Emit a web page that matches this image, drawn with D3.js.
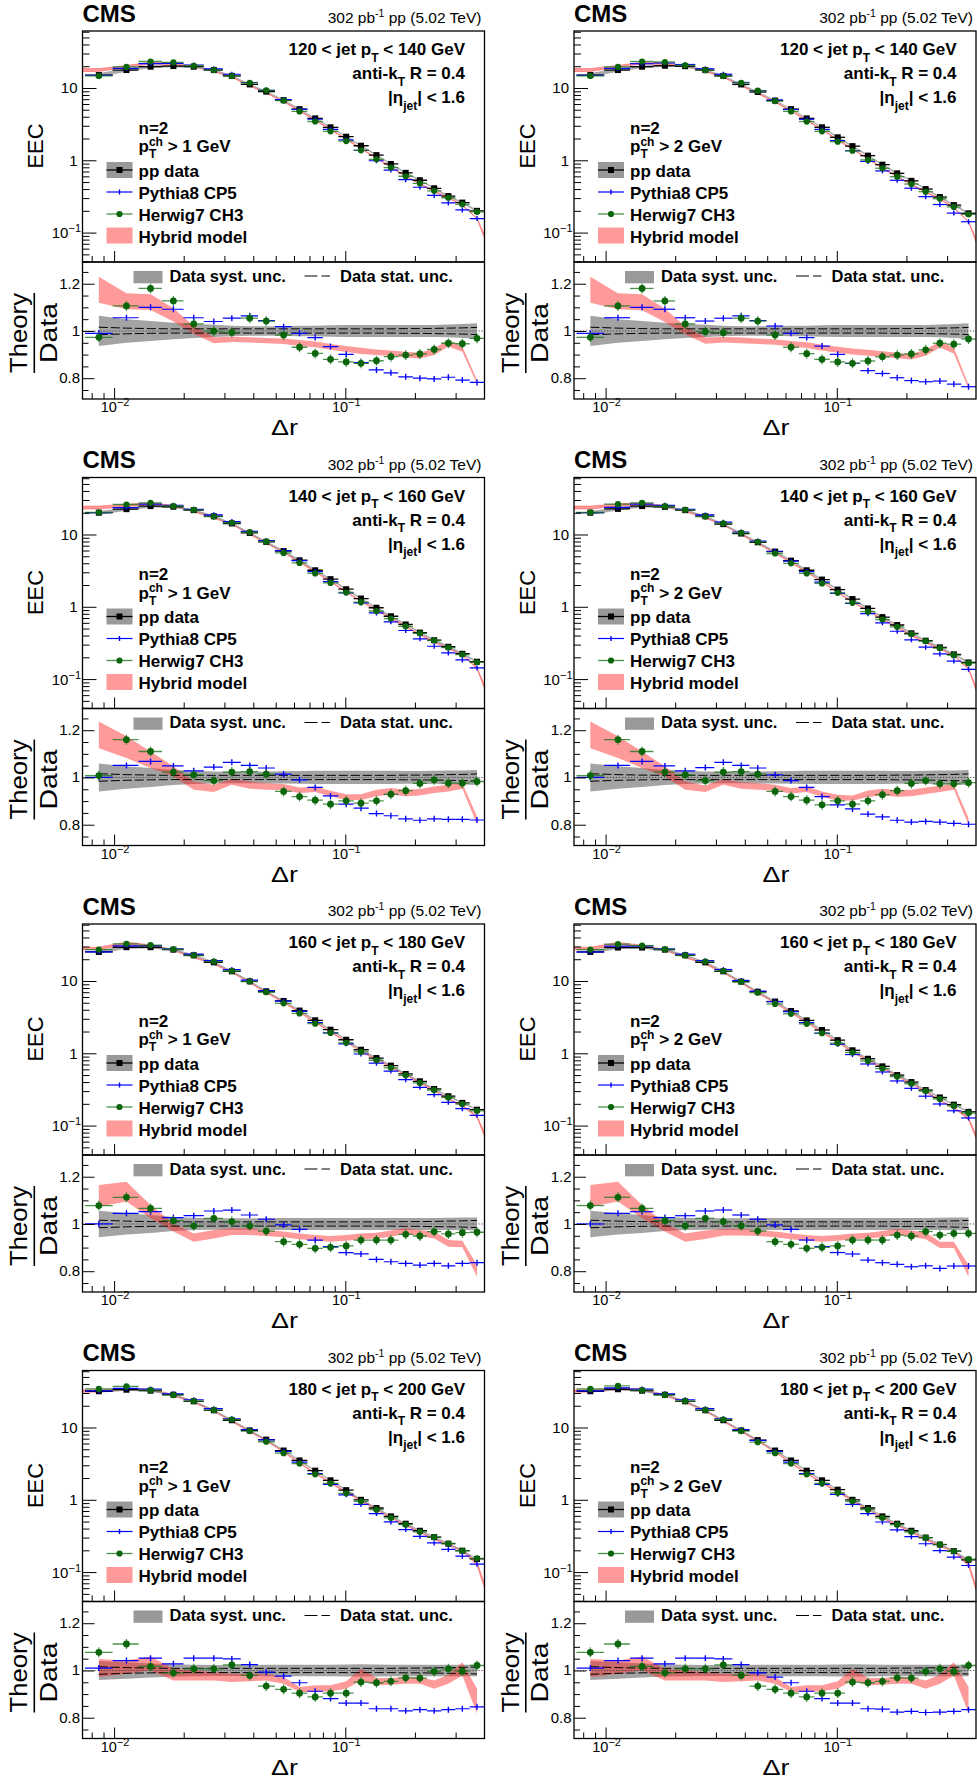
<!DOCTYPE html>
<html><head><meta charset="utf-8">
<script src="https://cdn.jsdelivr.net/npm/d3@7"></script>
<style>
body{margin:0;background:#fff}
svg{display:block}
text{font-family:"Liberation Sans",Arial,Helvetica,sans-serif;fill:#000}
</style></head>
<body><svg id="c" width="977" height="1778"></svg>
<script>
// ---------------- data ----------------
const dr = [0.00859,0.01131,0.01438,0.01805,0.0221,0.0270,0.0323,0.0386,0.0455,0.0541,0.0634,0.0741,0.0863,0.1009,0.1169,0.1364,0.1575,0.1825,0.2102,0.2423,0.2791,0.3208,0.3713];
const jetPtLow  = [120,140,160,180];
const jetPtHigh = [140,160,180,200];
const trackPtCut = [1,2];
const xTickVals = [0.01,0.1];
const xTickExp  = ["\u22122","\u22121"];
const yUpperTickVals = [0.1,1,10];
const ratioTickVals = [0.8,1,1.2];
const ratioTickLabels = ["0.8","1","1.2"];

// EEC (pp data)
const eec_120_140_trk1 = [15.1,17.7,19.7,20.1,19.7,17.7,14.7,11.2,8.9,6.8,5.1,3.8,2.86,2.12,1.59,1.18,0.89,0.67,0.53,0.41,0.32,0.26,0.20];
const eec_120_140_trk2 = [15.1,17.7,19.7,20.3,20.0,17.7,14.7,11.2,8.8,6.7,5.1,3.8,2.86,2.08,1.57,1.16,0.87,0.66,0.52,0.40,0.31,0.24,0.185];
const eec_140_160_trk1 = [20.0,22.4,24.7,24.2,21.7,17.9,14.2,10.5,7.9,5.9,4.4,3.2,2.41,1.75,1.30,0.97,0.74,0.57,0.44,0.345,0.28,0.224,0.174];
const eec_140_160_trk2 = [20.0,22.6,24.7,24.1,21.7,17.9,13.9,10.3,7.8,5.8,4.35,3.2,2.38,1.73,1.28,0.95,0.72,0.56,0.43,0.34,0.275,0.22,0.17];
const eec_160_180_trk1 = [25.2,29.3,29.3,27.1,22.7,18.1,13.6,9.9,7.2,5.3,3.9,2.86,2.12,1.54,1.12,0.86,0.675,0.518,0.41,0.321,0.255,0.206,0.166];
const eec_160_180_trk2 = [25.2,29.0,29.0,27.1,22.7,18.1,13.6,9.8,7.1,5.2,3.85,2.85,2.1,1.52,1.1,0.84,0.66,0.5,0.4,0.31,0.245,0.195,0.155];
const eec_180_200_trk1 = [31.7,33.3,32.3,28.4,23.0,17.3,12.6,9.1,6.8,4.8,3.5,2.53,1.86,1.36,1.0,0.77,0.59,0.467,0.373,0.305,0.247,0.198,0.152];
const eec_180_200_trk2 = [31.7,33.8,32.3,28.4,23.0,17.3,12.6,9.1,6.7,4.8,3.5,2.53,1.86,1.38,1.0,0.77,0.59,0.467,0.373,0.3,0.24,0.195,0.148];

// Theory / Data : Pythia8 CP5
const pythia_120_140_trk1 = [0.99,1.056,1.10,1.092,1.056,1.04,1.054,1.064,1.044,1.018,0.99,0.972,0.934,0.901,0.866,0.835,0.823,0.806,0.80,0.797,0.804,0.792,0.782];
const pythia_120_140_trk2 = [0.99,1.056,1.10,1.092,1.056,1.042,1.054,1.064,1.044,1.021,0.99,0.972,0.936,0.901,0.863,0.832,0.82,0.802,0.79,0.785,0.788,0.775,0.764];
const pythia_140_160_trk1 = [1.0,1.051,1.068,1.049,1.028,1.044,1.064,1.051,1.04,1.014,0.99,0.958,0.922,0.887,0.87,0.847,0.838,0.825,0.819,0.825,0.823,0.823,0.82];
const pythia_140_160_trk2 = [1.0,1.051,1.068,1.049,1.028,1.042,1.064,1.051,1.04,1.011,0.987,0.958,0.919,0.884,0.867,0.845,0.833,0.819,0.811,0.814,0.811,0.806,0.802];
const pythia_160_180_trk1 = [1.0,1.045,1.052,1.027,1.035,1.055,1.059,1.038,1.02,0.996,0.977,0.932,0.904,0.879,0.873,0.85,0.84,0.833,0.826,0.833,0.823,0.833,0.836];
const pythia_160_180_trk2 = [1.0,1.045,1.052,1.027,1.035,1.055,1.059,1.038,1.02,0.996,0.977,0.932,0.904,0.879,0.873,0.847,0.836,0.829,0.819,0.823,0.812,0.822,0.822];
const pythia_180_200_trk1 = [1.01,1.042,1.052,1.028,1.052,1.052,1.049,1.025,0.993,0.976,0.948,0.912,0.881,0.862,0.862,0.838,0.838,0.829,0.834,0.829,0.834,0.838,0.846];
const pythia_180_200_trk2 = [1.01,1.042,1.052,1.028,1.052,1.052,1.049,1.025,0.99,0.972,0.948,0.912,0.881,0.862,0.862,0.838,0.836,0.824,0.827,0.822,0.824,0.827,0.834];

// Theory / Data : Herwig7 CH3
const herwig_120_140_trk1 = [0.973,1.106,1.18,1.127,1.03,0.999,0.994,1.054,1.042,0.983,0.931,0.905,0.88,0.869,0.863,0.874,0.891,0.898,0.903,0.922,0.948,0.946,0.969];
const herwig_120_140_trk2 = [0.973,1.106,1.18,1.127,1.03,0.997,0.993,1.054,1.042,0.983,0.931,0.904,0.88,0.869,0.863,0.873,0.891,0.898,0.903,0.92,0.948,0.944,0.966];
const herwig_140_160_trk1 = [1.008,1.16,1.11,1.023,1.011,0.987,1.023,1.025,1.014,0.941,0.919,0.904,0.887,0.901,0.891,0.901,0.929,0.944,0.975,0.99,0.976,0.976,0.983];
const herwig_140_160_trk2 = [1.008,1.16,1.11,1.023,1.011,0.987,1.023,1.025,1.014,0.941,0.919,0.904,0.884,0.901,0.887,0.901,0.927,0.944,0.975,0.987,0.973,0.973,0.978];
const herwig_160_180_trk1 = [1.078,1.113,1.066,1.014,0.992,1.024,1.01,0.992,0.97,0.925,0.914,0.897,0.901,0.907,0.932,0.932,0.932,0.956,0.949,0.968,0.958,0.963,0.965];
const herwig_160_180_trk2 = [1.078,1.113,1.066,1.014,0.992,1.024,1.01,0.992,0.97,0.925,0.914,0.897,0.901,0.907,0.932,0.932,0.932,0.953,0.949,0.968,0.953,0.96,0.96];
const herwig_180_200_trk1 = [1.077,1.112,1.017,0.99,1.007,1.007,1.024,0.979,0.934,0.92,0.904,0.888,0.904,0.904,0.951,0.948,0.954,0.969,0.968,0.996,1.007,0.997,1.021];
const herwig_180_200_trk2 = [1.077,1.112,1.017,0.99,1.007,1.007,1.024,0.979,0.934,0.92,0.904,0.888,0.904,0.904,0.951,0.948,0.954,0.969,0.968,0.996,1.007,0.996,1.021];

// Theory / Data : Hybrid model band (upper / lower edge)
const hybHi_120_140_trk1 = [1.23,1.16,1.155,1.096,1.021,0.973,0.976,0.973,0.97,0.968,0.962,0.955,0.945,0.936,0.929,0.922,0.917,0.912,0.908,0.927,0.962,0.934,0.792];
const hybLo_120_140_trk1 = [1.12,1.092,1.089,1.04,0.987,0.948,0.953,0.951,0.948,0.945,0.936,0.931,0.92,0.911,0.903,0.898,0.894,0.888,0.883,0.898,0.934,0.912,0.775];
const hybHi_120_140_trk2 = [1.23,1.16,1.155,1.094,1.02,0.972,0.975,0.972,0.968,0.965,0.958,0.952,0.942,0.933,0.926,0.92,0.914,0.908,0.902,0.922,0.955,0.93,0.772];
const hybLo_120_140_trk2 = [1.12,1.092,1.088,1.038,0.985,0.946,0.951,0.948,0.945,0.942,0.934,0.928,0.917,0.908,0.9,0.895,0.89,0.884,0.879,0.895,0.93,0.905,0.755];
const hybHi_140_160_trk1 = [1.237,1.174,1.11,1.047,0.983,0.969,0.994,0.983,0.976,0.972,0.958,0.962,0.944,0.929,0.929,0.948,0.955,0.948,0.951,0.962,0.969,0.976,0.835];
const hybLo_140_160_trk1 = [1.124,1.082,1.04,1.004,0.948,0.938,0.969,0.952,0.948,0.946,0.934,0.938,0.92,0.905,0.905,0.92,0.927,0.92,0.924,0.934,0.941,0.952,0.802];
const hybHi_140_160_trk2 = [1.237,1.174,1.11,1.047,0.983,0.966,0.992,0.98,0.976,0.969,0.955,0.962,0.941,0.927,0.924,0.945,0.952,0.946,0.948,0.958,0.965,0.972,0.828];
const hybLo_140_160_trk2 = [1.124,1.082,1.04,1.004,0.948,0.938,0.969,0.952,0.948,0.944,0.932,0.938,0.917,0.903,0.901,0.917,0.924,0.918,0.92,0.93,0.938,0.948,0.8];
const hybHi_160_180_trk1 = [1.165,1.179,1.08,1.003,0.96,0.975,0.982,0.982,0.975,0.968,0.96,0.953,0.949,0.953,0.96,0.963,0.972,0.982,0.975,0.968,0.932,0.929,0.826];
const hybLo_160_180_trk1 = [1.073,1.095,1.024,0.968,0.925,0.939,0.953,0.953,0.949,0.944,0.935,0.929,0.925,0.929,0.935,0.939,0.946,0.958,0.949,0.939,0.904,0.901,0.777];
const hybHi_160_180_trk2 = [1.165,1.179,1.08,1.003,0.96,0.972,0.98,0.98,0.975,0.968,0.96,0.953,0.949,0.953,0.96,0.963,0.97,0.98,0.972,0.965,0.925,0.925,0.826];
const hybLo_160_180_trk2 = [1.073,1.095,1.024,0.968,0.925,0.936,0.951,0.951,0.949,0.944,0.935,0.929,0.925,0.929,0.935,0.939,0.944,0.955,0.946,0.935,0.898,0.898,0.777];
const hybHi_180_200_trk1 = [1.049,1.042,1.059,1.007,1.0,0.993,0.986,0.986,0.986,0.972,0.93,0.937,0.937,0.954,1.007,0.968,0.968,0.972,0.972,0.958,0.982,1.035,0.923];
const hybLo_180_200_trk1 = [0.972,0.986,1.0,0.958,0.958,0.958,0.951,0.954,0.958,0.944,0.909,0.909,0.912,0.923,0.958,0.937,0.94,0.944,0.944,0.923,0.944,0.979,0.817];
const hybHi_180_200_trk2 = [1.049,1.042,1.059,1.007,1.0,0.993,0.986,0.986,0.986,0.972,0.93,0.937,0.937,0.954,1.007,0.968,0.968,0.972,0.972,0.958,0.982,1.035,0.93];
const hybLo_180_200_trk2 = [0.972,0.986,1.0,0.958,0.958,0.958,0.951,0.954,0.958,0.944,0.909,0.909,0.912,0.923,0.958,0.937,0.94,0.944,0.944,0.923,0.944,0.979,0.82];
// Hybrid model value at the right edge (Delta r = 0.4) of the upper pads
const hybridEdgeValue = [0.088,0.079,0.078,0.075,0.075,0.071,0.064,0.06];

// Data relative uncertainties (half widths)
const systRel_120_140 = [0.064,0.05,0.042,0.035,0.03,0.026,0.022,0.02,0.02,0.02,0.022,0.022,0.024,0.025,0.025,0.025,0.025,0.025,0.025,0.025,0.027,0.03,0.033];
const systRel_140_160 = [0.059,0.048,0.04,0.032,0.028,0.025,0.024,0.024,0.025,0.026,0.027,0.028,0.028,0.028,0.028,0.028,0.028,0.027,0.027,0.028,0.029,0.03,0.032];
const systRel_160_180 = [0.056,0.045,0.038,0.03,0.026,0.024,0.024,0.024,0.025,0.025,0.025,0.025,0.025,0.025,0.025,0.025,0.025,0.025,0.025,0.025,0.026,0.027,0.027];
const systRel_180_200 = [0.04,0.035,0.03,0.026,0.024,0.023,0.023,0.023,0.024,0.024,0.024,0.024,0.024,0.025,0.026,0.025,0.024,0.024,0.024,0.024,0.024,0.024,0.024];
const statRel = [0.016,0.012,0.01,0.009,0.009,0.009,0.009,0.009,0.009,0.009,0.009,0.009,0.009,0.009,0.009,0.009,0.009,0.01,0.01,0.011,0.012,0.013,0.015];

// ---------------- assemble panels ----------------
const eecList = [eec_120_140_trk1,eec_120_140_trk2,eec_140_160_trk1,eec_140_160_trk2,eec_160_180_trk1,eec_160_180_trk2,eec_180_200_trk1,eec_180_200_trk2];
const pyList = [pythia_120_140_trk1,pythia_120_140_trk2,pythia_140_160_trk1,pythia_140_160_trk2,pythia_160_180_trk1,pythia_160_180_trk2,pythia_180_200_trk1,pythia_180_200_trk2];
const hwList = [herwig_120_140_trk1,herwig_120_140_trk2,herwig_140_160_trk1,herwig_140_160_trk2,herwig_160_180_trk1,herwig_160_180_trk2,herwig_180_200_trk1,herwig_180_200_trk2];
const hiList = [hybHi_120_140_trk1,hybHi_120_140_trk2,hybHi_140_160_trk1,hybHi_140_160_trk2,hybHi_160_180_trk1,hybHi_160_180_trk2,hybHi_180_200_trk1,hybHi_180_200_trk2];
const loList = [hybLo_120_140_trk1,hybLo_120_140_trk2,hybLo_140_160_trk1,hybLo_140_160_trk2,hybLo_160_180_trk1,hybLo_160_180_trk2,hybLo_180_200_trk1,hybLo_180_200_trk2];
const systList = [systRel_120_140,systRel_140_160,systRel_160_180,systRel_180_200];

const svg = d3.select("#c");
const COLX = [82.5,574], PW = 402, ROWH = 446.5;
const UT = 31, UB = 262, LB = 399;
const XDOM = [0.0073,0.4];
const C_BLUE = "#0000ff", C_GM = "#0b660b", C_GL = "rgba(30,120,30,0.8)";
const C_GREY = "#999999", C_PINK = "rgba(255,40,40,0.47)";

const edges = dr.map((c,i)=> i===0 ? c*c/Math.sqrt(c*dr[1]) : Math.sqrt(dr[i-1]*c));
edges.push(dr[dr.length-1]*dr[dr.length-1]/Math.sqrt(dr[dr.length-2]*dr[dr.length-1]));

function rich(sel, parts, small, subDy, supDy){
  let cur = 0;
  parts.forEach(p=>{
    const tgt = p.sub ? subDy : (p.sup ? -supDy : 0);
    const t = sel.append("tspan").text(p.t);
    if (tgt!==cur) t.attr("dy", tgt-cur);
    if (p.dx) t.attr("dx", p.dx);
    if (p.sub || p.sup) t.style("font-size", small+"px");
    cur = tgt;
  });
  return sel;
}

function drawPanel(k){
  const row = Math.floor(k/2), col = k%2;
  const data = eecList[k], py = pyList[k], hw = hwList[k], hi = hiList[k], lo = loList[k];
  const syst = systList[row];
  const x0 = COLX[col], x1 = x0+PW, oy = row*ROWH;
  const uT = UT+oy, uB = UB+oy, lB = LB+oy;
  const x = d3.scaleLog().domain(XDOM).range([x0,x1]);
  const yU = d3.scaleLog().domain([0.0392,61.4]).range([uB,uT]);
  const yL = d3.scaleLinear().domain([0.712,1.292]).range([lB,uB]);
  const id = "p"+k;
  const defs = svg.append("defs");
  defs.append("clipPath").attr("id",id+"u").append("rect").attr("x",x0).attr("y",uT).attr("width",PW).attr("height",uB-uT);
  defs.append("clipPath").attr("id",id+"l").append("rect").attr("x",x0).attr("y",uB).attr("width",PW).attr("height",lB-uB);
  const gu = svg.append("g").attr("clip-path",`url(#${id}u)`);
  const gl = svg.append("g").attr("clip-path",`url(#${id}l)`);
  const idx = d3.range(dr.length);

  // ---- upper pad ----
  const hybPts = [{r:XDOM[0],lo:data[0]*lo[0],hi:data[0]*hi[0]}]
    .concat(idx.map(i=>({r:dr[i],lo:data[i]*lo[i],hi:data[i]*hi[i]})))
    .concat([{r:XDOM[1],lo:hybridEdgeValue[k]*0.94,hi:hybridEdgeValue[k]*1.06}]);
  gu.append("path").datum(hybPts)
    .attr("d",d3.area().x(d=>x(d.r)).y0(d=>yU(d.lo)).y1(d=>yU(d.hi)))
    .attr("fill",C_PINK).attr("stroke",C_PINK).attr("stroke-width",0.8);
  gu.append("path").datum(idx)
    .attr("d",d3.area().x(i=>x(dr[i])).y0(i=>yU(data[i]*(1-syst[i]))).y1(i=>yU(data[i]*(1+syst[i]))))
    .attr("fill",C_GREY).attr("opacity",0.85);
  // data
  gu.selectAll(null).data(idx).join("line")
    .attr("x1",i=>x(edges[i])).attr("x2",i=>x(edges[i+1]))
    .attr("y1",i=>yU(data[i])).attr("y2",i=>yU(data[i]))
    .attr("stroke","#000").attr("stroke-width",1.3);
  gu.selectAll(null).data(idx).join("rect")
    .attr("x",i=>x(dr[i])-3).attr("y",i=>yU(data[i])-3).attr("width",6).attr("height",6).attr("fill","#000");
  // pythia
  gu.selectAll(null).data(idx).join("line")
    .attr("x1",i=>x(edges[i])).attr("x2",i=>x(edges[i+1]))
    .attr("y1",i=>yU(data[i]*py[i])).attr("y2",i=>yU(data[i]*py[i]))
    .attr("stroke",C_BLUE).attr("stroke-width",1.2);
  gu.selectAll(null).data(idx).join("line")
    .attr("x1",i=>x(dr[i])).attr("x2",i=>x(dr[i]))
    .attr("y1",i=>yU(data[i]*py[i])-2.5).attr("y2",i=>yU(data[i]*py[i])+2.5)
    .attr("stroke",C_BLUE).attr("stroke-width",1.4);
  // herwig
  gu.selectAll(null).data(idx).join("line")
    .attr("x1",i=>x(edges[i])).attr("x2",i=>x(edges[i+1]))
    .attr("y1",i=>yU(data[i]*hw[i])).attr("y2",i=>yU(data[i]*hw[i]))
    .attr("stroke",C_GL).attr("stroke-width",1.3);
  gu.selectAll(null).data(idx).join("circle")
    .attr("cx",i=>x(dr[i])).attr("cy",i=>yU(data[i]*hw[i])).attr("r",3.1).attr("fill",C_GM);

  // ---- lower pad ----
  gl.append("path").datum(idx)
    .attr("d",d3.area().x(i=>x(dr[i])).y0(i=>yL(1-syst[i])).y1(i=>yL(1+syst[i])))
    .attr("fill",C_GREY).attr("opacity",0.9);
  gl.append("path").datum(idx)
    .attr("d",d3.area().x(i=>x(dr[i])).y0(i=>yL(lo[i])).y1(i=>yL(hi[i])))
    .attr("fill",C_PINK);
  [1,-1].forEach(s=>{
    gl.append("path").datum(idx)
      .attr("d",d3.line().x(i=>x(dr[i])).y(i=>yL(1+s*statRel[i])))
      .attr("fill","none").attr("stroke","#000").attr("stroke-width",1).attr("stroke-dasharray","9,3");
  });
  gl.append("line").attr("x1",x0).attr("x2",x1).attr("y1",yL(1)).attr("y2",yL(1))
    .attr("stroke","#444").attr("stroke-width",1).attr("stroke-dasharray","1.2,1.8");
  gl.selectAll(null).data(idx).join("line")
    .attr("x1",i=>x(edges[i])).attr("x2",i=>x(edges[i+1]))
    .attr("y1",i=>yL(py[i])).attr("y2",i=>yL(py[i]))
    .attr("stroke",C_BLUE).attr("stroke-width",1.2);
  gl.selectAll(null).data(idx).join("line")
    .attr("x1",i=>x(dr[i])).attr("x2",i=>x(dr[i]))
    .attr("y1",i=>yL(py[i])-3).attr("y2",i=>yL(py[i])+3)
    .attr("stroke",C_BLUE).attr("stroke-width",1.4);
  gl.selectAll(null).data(idx).join("line")
    .attr("x1",i=>x(edges[i])).attr("x2",i=>x(edges[i+1]))
    .attr("y1",i=>yL(hw[i])).attr("y2",i=>yL(hw[i]))
    .attr("stroke",C_GL).attr("stroke-width",1.3);
  gl.selectAll(null).data(idx).join("line")
    .attr("x1",i=>x(dr[i])).attr("x2",i=>x(dr[i]))
    .attr("y1",i=>yL(hw[i])-5).attr("y2",i=>yL(hw[i])+5)
    .attr("stroke",C_GL).attr("stroke-width",1.2);
  gl.selectAll(null).data(idx).join("circle")
    .attr("cx",i=>x(dr[i])).attr("cy",i=>yL(hw[i])).attr("r",3.4).attr("fill",C_GM);

  // ---- axes / ticks ----
  const g = svg.append("g");
  const xMinor = [0.008,0.009,0.02,0.03,0.04,0.05,0.06,0.07,0.08,0.09,0.2,0.3,0.4].filter(v=>v<XDOM[1]);
  const noDom = s=>s.select(".domain").remove();
  [uB,lB].forEach(yy=>{
    g.append("g").attr("transform",`translate(0,${yy})`)
      .call(d3.axisBottom(x).tickValues(xTickVals).tickSize(-11).tickFormat("")).call(noDom);
    g.append("g").attr("transform",`translate(0,${yy})`)
      .call(d3.axisBottom(x).tickValues(xMinor).tickSize(-6).tickFormat("")).call(noDom);
  });
  const yMinor = [];
  [0.01,0.1,1,10].forEach(d=>{for(let m=2;m<=9;m++){const v=m*d; if(v>0.0392&&v<61.4) yMinor.push(v);}});
  g.append("g").attr("transform",`translate(${x0},0)`)
    .call(d3.axisLeft(yU).tickValues(yUpperTickVals).tickSize(-14).tickFormat("")).call(noDom);
  g.append("g").attr("transform",`translate(${x0},0)`)
    .call(d3.axisLeft(yU).tickValues(yMinor).tickSize(-7).tickFormat("")).call(noDom);
  const rMinor = d3.range(0.75,1.29,0.05).filter(v=>Math.abs((v-0.8)%0.2)>0.01 && Math.abs((v-0.8)%0.2-0.2)>0.01);
  g.append("g").attr("transform",`translate(${x0},0)`)
    .call(d3.axisLeft(yL).tickValues(ratioTickVals).tickSize(-12).tickFormat("")).call(noDom);
  g.append("g").attr("transform",`translate(${x0},0)`)
    .call(d3.axisLeft(yL).tickValues(rMinor).tickSize(-6).tickFormat("")).call(noDom);
  g.selectAll(".tick line").attr("stroke","#000").attr("stroke-width",1);
  g.append("rect").attr("x",x0).attr("y",uT).attr("width",PW).attr("height",uB-uT)
    .attr("fill","none").attr("stroke","#000").attr("stroke-width",1.3);
  g.append("rect").attr("x",x0).attr("y",uB).attr("width",PW).attr("height",lB-uB)
    .attr("fill","none").attr("stroke","#000").attr("stroke-width",1.3);

  // tick labels
  xTickVals.forEach((v,j)=>{
    rich(g.append("text").attr("x",x(v)+1).attr("y",lB+13).attr("text-anchor","middle").style("font-size","14.5px"),
      [{t:"10"},{t:xTickExp[j],sup:true}], 11, 0, 6);
  });
  rich(g.append("text").attr("x",x0-5).attr("y",yU(10)+5.5).attr("text-anchor","end").style("font-size","15px"),[{t:"10"}],11,0,6);
  rich(g.append("text").attr("x",x0-5).attr("y",yU(1)+5.5).attr("text-anchor","end").style("font-size","15px"),[{t:"1"}],11,0,6);
  rich(g.append("text").attr("x",x0-1.5).attr("y",yU(0.1)+5.5).attr("text-anchor","end").style("font-size","15px"),[{t:"10"},{t:"\u22121",sup:true}],11,0,6);
  ratioTickVals.forEach((v,j)=>{
    g.append("text").attr("x",x0-2.5).attr("y",yL(v)+5).attr("text-anchor","end").style("font-size","15px").text(ratioTickLabels[j]);
  });

  // axis titles
  g.append("text").attr("transform",`translate(${x0-39.5},${oy+146}) rotate(-90)`)
    .attr("text-anchor","middle").style("font-size","22.5px").attr("textLength",45).attr("lengthAdjust","spacingAndGlyphs").text("EEC");
  g.append("text").attr("transform",`translate(${x0-55.5},${oy+333}) rotate(-90)`)
    .attr("text-anchor","middle").style("font-size","23px").attr("textLength",80).attr("lengthAdjust","spacingAndGlyphs").text("Theory");
  g.append("text").attr("transform",`translate(${x0-26},${oy+333}) rotate(-90)`)
    .attr("text-anchor","middle").style("font-size","23px").attr("textLength",60).attr("lengthAdjust","spacingAndGlyphs").text("Data");
  g.append("line").attr("x1",x0-48.2).attr("x2",x0-48.2).attr("y1",oy+293).attr("y2",oy+373)
    .attr("stroke","#000").attr("stroke-width",1.6);
  g.append("text").attr("x",(x0+x1)/2+1).attr("y",oy+435).attr("text-anchor","middle")
    .style("font-size","22px").attr("textLength",27).attr("lengthAdjust","spacingAndGlyphs").text("\u0394r");

  // header
  g.append("text").attr("x",x0).attr("y",oy+21.7).style("font-size","24px").style("font-weight","bold").text("CMS");
  rich(g.append("text").attr("x",x1-3).attr("y",oy+23.3).attr("text-anchor","end").style("font-size","15.5px"),
    [{t:"302 pb"},{t:"-1",sup:true},{t:" pp (5.02 TeV)"}], 10.5, 0, 6);

  // info labels
  const bold = s=>s.style("font-weight","bold").style("font-size","17px");
  rich(bold(g.append("text").attr("x",x1-19.5).attr("y",oy+55).attr("text-anchor","end")),
    [{t:`${jetPtLow[row]} < jet p`},{t:"T",sub:true},{t:` < ${jetPtHigh[row]} GeV`}], 12, 6.5, 0);
  rich(bold(g.append("text").attr("x",x1-19.5).attr("y",oy+79.3).attr("text-anchor","end")),
    [{t:"anti-k"},{t:"T",sub:true},{t:" R = 0.4"}], 12, 6.5, 0);
  rich(bold(g.append("text").attr("x",x1-19.5).attr("y",oy+103.3).attr("text-anchor","end")),
    [{t:"|\u03b7"},{t:"jet",sub:true},{t:"| < 1.6"}], 12, 6.5, 0);
  const lx = x0+56;
  bold(g.append("text").attr("x",lx).attr("y",oy+133.5)).text("n=2");
  const pt = bold(g.append("text").attr("x",lx).attr("y",oy+152.3));
  pt.append("tspan").text("p");
  pt.append("tspan").attr("dy",-6.5).style("font-size","12px").text("ch");
  pt.append("tspan").attr("dx",-14).attr("dy",12.5).style("font-size","12px").text("T");
  pt.append("tspan").attr("dx",6.7).attr("dy",-6).text(` > ${trackPtCut[col]} GeV`);

  // legend
  const sx0 = x0+24, sx1 = x0+50, sxm = (sx0+sx1)/2;
  const ly = [176.5,198.5,220.5,242.5].map(v=>v+oy);
  const labels = ["pp data","Pythia8 CP5","Herwig7 CH3","Hybrid model"];
  labels.forEach((t,j)=>bold(g.append("text").attr("x",lx).attr("y",ly[j])).text(t));
  g.append("rect").attr("x",sx0).attr("y",ly[0]-14.5).attr("width",sx1-sx0).attr("height",16).attr("fill",C_GREY);
  g.append("line").attr("x1",sx0).attr("x2",sx1).attr("y1",ly[0]-6.5).attr("y2",ly[0]-6.5).attr("stroke","#000").attr("stroke-width",1.3);
  g.append("rect").attr("x",sxm-3).attr("y",ly[0]-9.5).attr("width",6).attr("height",6).attr("fill","#000");
  g.append("line").attr("x1",sx0).attr("x2",sx1).attr("y1",ly[1]-6.5).attr("y2",ly[1]-6.5).attr("stroke",C_BLUE).attr("stroke-width",1.2);
  g.append("line").attr("x1",sxm).attr("x2",sxm).attr("y1",ly[1]-9).attr("y2",ly[1]-4).attr("stroke",C_BLUE).attr("stroke-width",1.4);
  g.append("line").attr("x1",sx0).attr("x2",sx1).attr("y1",ly[2]-6.5).attr("y2",ly[2]-6.5).attr("stroke",C_GL).attr("stroke-width",1.3);
  g.append("circle").attr("cx",sxm).attr("cy",ly[2]-6.5).attr("r",3.1).attr("fill",C_GM);
  g.append("rect").attr("x",sx0).attr("y",ly[3]-15).attr("width",sx1-sx0).attr("height",16).attr("fill",C_PINK);

  // lower legend
  g.append("rect").attr("x",x0+51).attr("y",oy+271).attr("width",29).attr("height",12.3).attr("fill",C_GREY);
  g.append("text").attr("x",x0+87).attr("y",oy+281.7).style("font-weight","bold").style("font-size","16.5px").text("Data syst. unc.");
  g.append("line").attr("x1",x0+222).attr("x2",x0+247.5).attr("y1",oy+276).attr("y2",oy+276)
    .attr("stroke","#000").attr("stroke-width",1.1).attr("stroke-dasharray","13,4");
  g.append("text").attr("x",x0+257.5).attr("y",oy+281.7).style("font-weight","bold").style("font-size","16.5px").text("Data stat. unc.");
}

for (let k=0;k<8;k++) drawPanel(k);
</script></body></html>
